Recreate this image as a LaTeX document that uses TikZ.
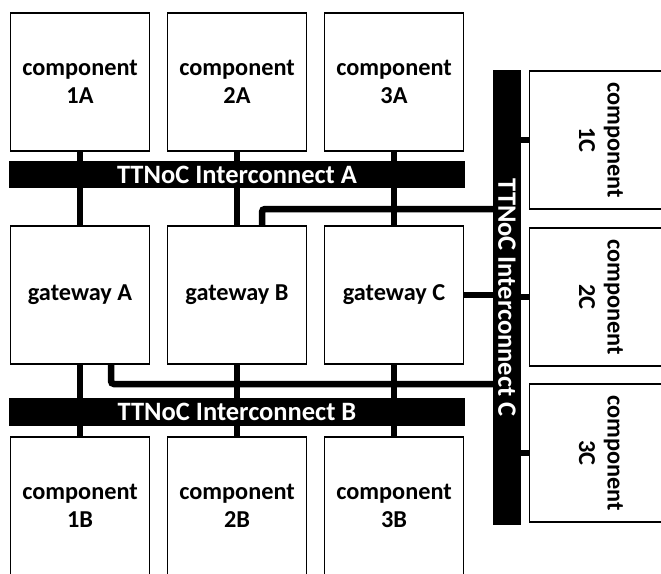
\documentclass[tikz,border=0pt]{standalone}
\usepackage{fontspec}
\setmainfont{Carlito}

\tikzset{
  box/.style={draw, line width=1.3pt, fill=white, minimum width=139pt, minimum height=138pt,
    inner sep=0pt, align=center, font=\fontsize{24.3}{28.5}\selectfont\bfseries},
  bus/.style={fill=black, text=white, inner sep=0pt, font=\fontsize{26.5}{30}\selectfont\bfseries},
  link/.style={line width=6.5pt},
}

\begin{document}
\begin{tikzpicture}[x=1pt, y=-1pt]
        \clip (0,0) rectangle (661,573);

        % Interconnects
        \node[bus, minimum width=456pt, minimum height=27pt] (busA) at (237,174.5) {TTNoC Interconnect A};
        \node[bus, minimum width=456pt, minimum height=28pt] (busB) at (237,412) {TTNoC Interconnect B};
        \node[bus, minimum width=28pt, minimum height=455pt] (busC) at (507,297.5) {\rotatebox{-90}{TTNoC Interconnect C}};

        % Components on interconnect A
        \node[box] (c1A) at (80,82) {component\\1A};
        \node[box] (c2A) at (237,82) {component\\2A};
        \node[box] (c3A) at (394,82) {component\\3A};

        % Gateways
        \node[box] (gwA) at (80,295) {gateway A};
        \node[box] (gwB) at (237,295) {gateway B};
        \node[box] (gwC) at (394,295) {gateway C};

        % Components on interconnect B
        \node[box] (c1B) at (80,506) {component\\1B};
        \node[box] (c2B) at (237,506) {component\\2B};
        \node[box] (c3B) at (394,506) {component\\3B};

        % Components on interconnect C (cut by the right edge)
        \node[box] (c1C) at (599,140) {\rotatebox{-90}{\begin{tabular}{@{}c@{}}component\\1C\end{tabular}}};
        \node[box] (c2C) at (599,297) {\rotatebox{-90}{\begin{tabular}{@{}c@{}}component\\2C\end{tabular}}};
        \node[box] (c3C) at (599,453) {\rotatebox{-90}{\begin{tabular}{@{}c@{}}component\\3C\end{tabular}}};

        % Links to interconnect A
        \draw[link] (c1A.south) -- (c1A.south |- busA.north);
        \draw[link] (c2A.south) -- (c2A.south |- busA.north);
        \draw[link] (c3A.south) -- (c3A.south |- busA.north);
        \draw[link] (gwA.north) -- (gwA.north |- busA.south);
        \draw[link] (gwB.north) -- (gwB.north |- busA.south);
        \draw[link] (gwC.north) -- (gwC.north |- busA.south);

        % Links to interconnect B
        \draw[link] (gwA.south) -- (gwA.south |- busB.north);
        \draw[link] (gwB.south) -- (gwB.south |- busB.north);
        \draw[link] (gwC.south) -- (gwC.south |- busB.north);
        \draw[link] (c1B.north) -- (c1B.north |- busB.south);
        \draw[link] (c2B.north) -- (c2B.north |- busB.south);
        \draw[link] (c3B.north) -- (c3B.north |- busB.south);

        % Links to interconnect C
        \coordinate (jB) at (0,209);
        \coordinate (jA) at (0,384);
        \draw[link, rounded corners=3pt] ([xshift=25pt]gwB.north) |- (busC.west |- jB);
        \draw[link, rounded corners=3pt] ([xshift=31pt]gwA.south) |- (busC.west |- jA);
        \draw[link] (gwC.east) -- (gwC.east -| busC.west);
        \draw[link] (busC.east |- c1C.west) -- (c1C.west);
        \draw[link] (busC.east |- c2C.west) -- (c2C.west);
        \draw[link] (busC.east |- c3C.west) -- (c3C.west);

    \end{tikzpicture}
\end{document}
